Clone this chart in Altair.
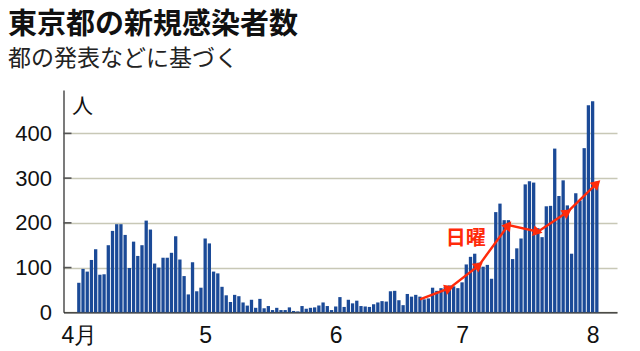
import math
import altair as alt
import pandas as pd

# Daily new cases, Tokyo (Apr 1 .. Aug 2)
apr = [66, 97, 91, 117, 141, 84, 85, 150, 182, 197, 197, 173, 99, 158, 126,
       150, 205, 185, 109, 100, 122, 122, 133, 170, 118, 81, 40, 112, 47, 55]
may = [165, 154, 91, 87, 57, 38, 23, 39, 36, 22, 15, 28, 10, 30, 9, 14, 5, 10,
       5, 5, 11, 3, 2, 14, 8, 10, 11, 15, 22, 14, 5]
jun = [13, 34, 12, 28, 20, 26, 14, 13, 12, 18, 22, 25, 24, 47, 48, 27, 16, 41,
       35, 39, 35, 29, 31, 55, 48, 54, 57, 60, 58, 54]
jul = [67, 107, 124, 131, 111, 102, 106, 75, 224, 243, 206, 206, 119, 143, 165,
       286, 293, 290, 188, 168, 237, 238, 366, 260, 295, 239, 131, 266, 250,
       367, 463]
aug = [472, 292]

# Month tick positions (day index from Apr 1) and labels
tick_days = [0, 30, 61, 91, 122]
tick_labels = ["4月", "5", "6", "7", "8"]

# Sunday trend arrow (day index, value)
sun_days = [81, 88, 95, 102, 109, 116, 123]
sun_vals = [29, 54, 105, 195, 180, 224, 288]

y_ticks = [0, 100, 200, 300, 400]
grid_ticks = [100, 200, 300, 400]

cases = apr + may + jun + jul + aug
bars = pd.DataFrame({"day": list(range(len(cases))), "cases": cases})

W, H = 553.5, 222.3
XD = [-2.45, 126.6]
YD = [0, 497]
kx = W / (XD[1] - XD[0])
ky = H / (YD[1] - YD[0])

angles = [0.0]
for i in range(1, len(sun_days)):
    dxp = (sun_days[i] - sun_days[i - 1]) * kx
    dyp = -(sun_vals[i] - sun_vals[i - 1]) * ky
    angles.append(math.degrees(math.atan2(dyp, dxp)) % 360)
sun = pd.DataFrame({"day": sun_days, "v": sun_vals, "ang": angles,
                    "head": [0] + [1] * (len(sun_days) - 1)})

label_expr = " : ".join(
    f"datum.value == {d} ? '{l}'" for d, l in zip(tick_days, tick_labels)
) + " : ''"

xs = alt.Scale(domain=XD, nice=False, zero=False)
ys = alt.Scale(domain=YD, nice=False)

RED = "#ff2a0a"
BLUE = "#1b4a97"

bar_layer = alt.Chart(bars).mark_bar(size=3.3, color=BLUE).encode(
    x=alt.X("day:Q", scale=xs, axis=alt.Axis(
        values=tick_days, labelExpr=label_expr, grid=False, ticks=False,
        domain=True, domainColor="#222222", domainWidth=1.2,
        labelFont="Liberation Sans", labelFontSize=23, labelColor="#111111",
        labelPadding=12, labelFlush=False, title=None)),
    y=alt.Y("cases:Q", scale=ys, axis=alt.Axis(
        values=y_ticks, grid=True, gridColor="#c8c8b6", gridWidth=1.6,
        ticks=False, domain=True, domainColor="#222222", domainWidth=1.2,
        labelFont="Liberation Sans", labelFontSize=22, labelColor="#111111",
        labelPadding=12, title="人", titleAngle=0, titleX=18.5, titleY=16,
        titleAlign="center", titleBaseline="middle",
        titleFont="Noto Sans CJK JP", titleFontSize=21,
        titleFontWeight="normal", titleColor="#111111")),
)

tick_layer = alt.Chart(pd.DataFrame({"t": grid_ticks})).mark_rule(
    color="#555555", strokeWidth=1.6).encode(
    y=alt.Y("t:Q", scale=ys), x=alt.value(0), x2=alt.value(8))

line_layer = alt.Chart(sun).mark_line(color=RED, strokeWidth=2.4).encode(
    x=alt.X("day:Q", scale=xs), y=alt.Y("v:Q", scale=ys))

head_layer = alt.Chart(sun).transform_filter("datum.head == 1").mark_point(
    shape="triangle-right", filled=True, color=RED, size=120, opacity=1).encode(
    x=alt.X("day:Q", scale=xs), y=alt.Y("v:Q", scale=ys),
    angle=alt.Angle("ang:Q", scale=None))

text_layer = alt.Chart(pd.DataFrame({"a": [1]})).mark_text(
    text="日曜", font="Noto Sans CJK JP", fontSize=20, fontWeight="bold",
    color=RED, align="center", baseline="middle").encode(
    x=alt.datum(91.9, scale=xs), y=alt.datum(164, scale=ys))

chart = alt.layer(bar_layer, tick_layer, line_layer, head_layer, text_layer).properties(
    width=W, height=H,
    title=alt.TitleParams(
        text="東京都の新規感染者数", subtitle="都の発表などに基づく",
        anchor="start", frame="group", dx=-55.5, offset=19,
        font="Noto Sans CJK JP", fontSize=29, fontWeight="bold", color="#111111",
        subtitleFont="Noto Sans CJK JP", subtitleFontSize=23,
        subtitleColor="#222222", subtitlePadding=8),
    autosize=alt.AutoSizeParams(type="none"),
    padding={"left": 63.5, "top": 90, "right": 23, "bottom": 38.7},
    background="white",
).configure_view(stroke=None)

chart.save("out.html", embed_options={"renderer": "svg", "actions": False})
